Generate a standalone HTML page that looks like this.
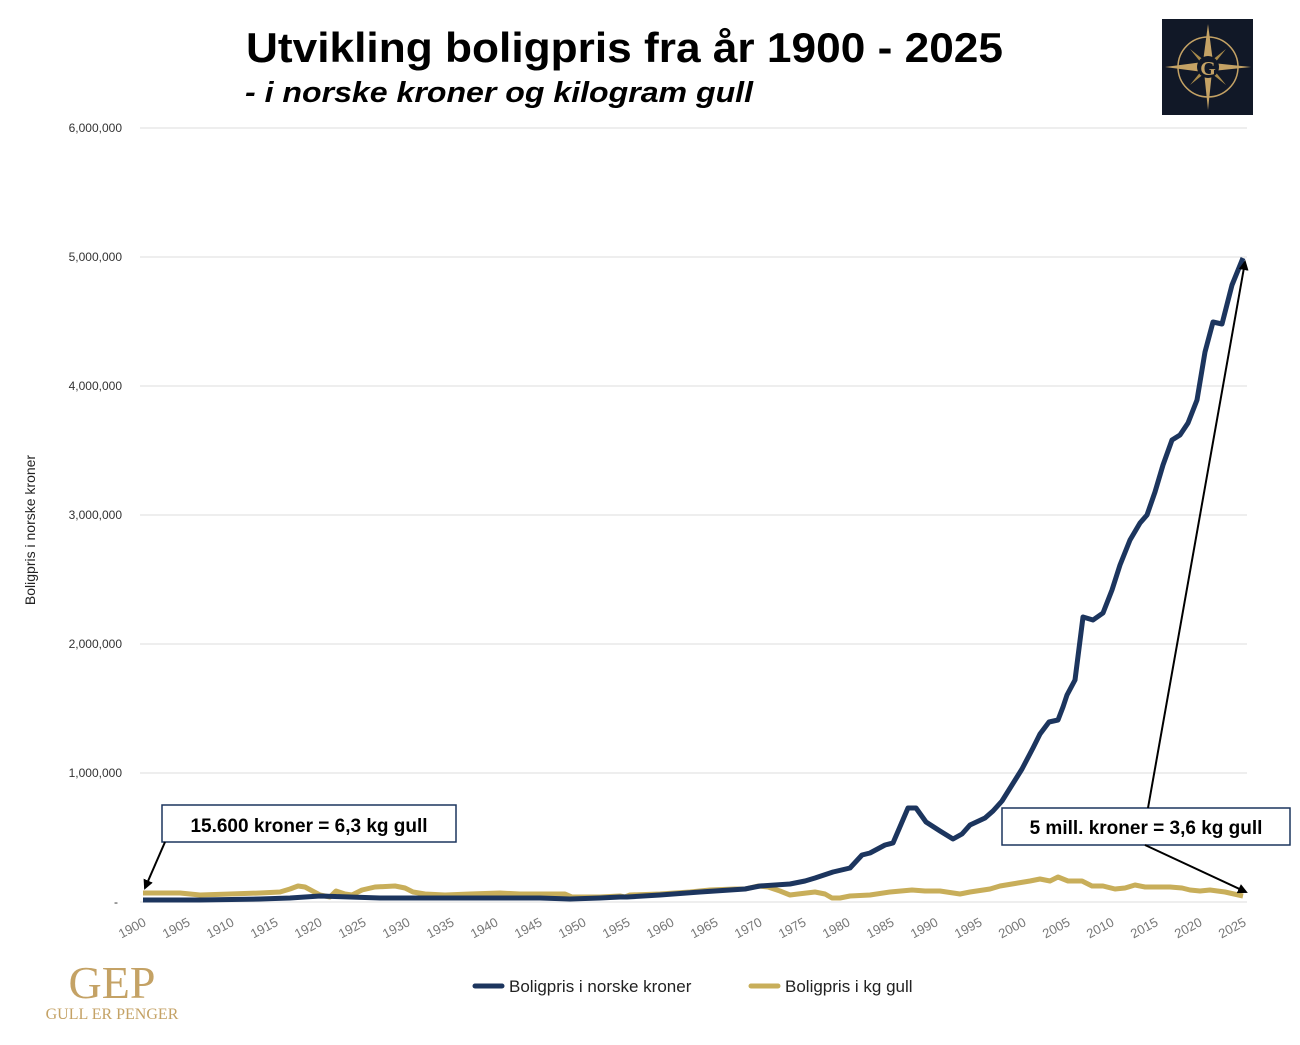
<!DOCTYPE html>
<html><head><meta charset="utf-8"><style>
body{margin:0;background:#fff;width:1300px;height:1040px;overflow:hidden}
svg text{font-family:"Liberation Sans",sans-serif}
</style></head><body>
<svg width="1300" height="1040" viewBox="0 0 1300 1040" xmlns="http://www.w3.org/2000/svg">
<defs><marker id="ah" markerWidth="10" markerHeight="10" refX="8" refY="5" orient="auto" markerUnits="userSpaceOnUse"><path d="M0,0 L10,5 L0,10 z" fill="#000"/></marker></defs>
<text x="246" y="62" font-size="42" font-weight="bold" fill="#000" textLength="757" lengthAdjust="spacingAndGlyphs">Utvikling boligpris fra år 1900 - 2025</text>
<text x="245" y="102" font-size="29" font-weight="bold" font-style="italic" fill="#000" textLength="508" lengthAdjust="spacingAndGlyphs">- i norske kroner og kilogram gull</text>
<g stroke="#dcdcdc" stroke-width="1">
<line x1="140" y1="128" x2="1247" y2="128"/><line x1="140" y1="257" x2="1247" y2="257"/><line x1="140" y1="386" x2="1247" y2="386"/><line x1="140" y1="515" x2="1247" y2="515"/><line x1="140" y1="644" x2="1247" y2="644"/><line x1="140" y1="773" x2="1247" y2="773"/><line x1="140" y1="902" x2="1247" y2="902"/>
</g>
<g font-size="12" fill="#333" text-anchor="end">
<text x="122" y="132">6,000,000</text><text x="122" y="261">5,000,000</text><text x="122" y="390">4,000,000</text><text x="122" y="519">3,000,000</text><text x="122" y="648">2,000,000</text><text x="122" y="777">1,000,000</text><text x="118" y="906">-</text>
</g>
<text transform="translate(35,530) rotate(-90)" text-anchor="middle" font-size="14" fill="#222">Boligpris i norske kroner</text>
<g font-size="13" fill="#777" text-anchor="end">
<text transform="translate(147,925) rotate(-28)">1900</text><text transform="translate(191,925) rotate(-28)">1905</text><text transform="translate(235,925) rotate(-28)">1910</text><text transform="translate(279,925) rotate(-28)">1915</text><text transform="translate(323,925) rotate(-28)">1920</text><text transform="translate(367,925) rotate(-28)">1925</text><text transform="translate(411,925) rotate(-28)">1930</text><text transform="translate(455,925) rotate(-28)">1935</text><text transform="translate(499,925) rotate(-28)">1940</text><text transform="translate(543,925) rotate(-28)">1945</text><text transform="translate(587,925) rotate(-28)">1950</text><text transform="translate(631,925) rotate(-28)">1955</text><text transform="translate(675,925) rotate(-28)">1960</text><text transform="translate(719,925) rotate(-28)">1965</text><text transform="translate(763,925) rotate(-28)">1970</text><text transform="translate(807,925) rotate(-28)">1975</text><text transform="translate(851,925) rotate(-28)">1980</text><text transform="translate(895,925) rotate(-28)">1985</text><text transform="translate(939,925) rotate(-28)">1990</text><text transform="translate(983,925) rotate(-28)">1995</text><text transform="translate(1027,925) rotate(-28)">2000</text><text transform="translate(1071,925) rotate(-28)">2005</text><text transform="translate(1115,925) rotate(-28)">2010</text><text transform="translate(1159,925) rotate(-28)">2015</text><text transform="translate(1203,925) rotate(-28)">2020</text><text transform="translate(1247,925) rotate(-28)">2025</text>
</g>
<polyline fill="none" stroke="#c8ae5a" stroke-width="5" stroke-linejoin="round" points="143,893 180,893 200,895 230,894 260,893 280,892 290,889 298,886 305,887 320,895 330,897 336,891 345,894 352,895 362,890 375,887 395,886 405,888 413,892 425,894 445,895 470,894 500,893 520,894 545,894 565,894 572,897 600,897 620,896 625,897 630,895 660,894 690,892 710,890 735,889 745,889 758,886 768,887 780,891 790,895 798,894 815,892 825,894 832,898 840,898 850,896 870,895 890,892 912,890 925,891 940,891 960,894 970,892 990,889 1000,886 1012,884 1030,881 1040,879 1050,881 1058,877 1068,881 1082,881 1092,886 1103,886 1115,889 1125,888 1135,885 1145,887 1170,887 1182,888 1190,890 1200,891 1210,890 1225,892 1243,896"/>
<polyline fill="none" stroke="#1c355e" stroke-width="5" stroke-linejoin="round" points="143,900 200,900 260,899 290,898 320,896 350,897 380,898 420,898 460,898 500,898 540,898 570,899 600,898 620,897 627,897 660,895 700,892 745,889 760,886 790,884 805,881 815,878 833,872 850,868 862,855 870,853 885,845 893,843 908,808 916,808 926,822 940,831 953,839 962,834 970,825 985,818 993,811 1002,801 1012,785 1022,769 1033,748 1040,734 1049,722 1058,720 1063,707 1067,695 1075,680 1083,617 1093,620 1103,613 1112,590 1120,565 1130,540 1140,523 1147,515 1155,492 1163,465 1172,440 1180,435 1188,423 1197,400 1205,352 1213,322 1222,324 1232,285 1243,258"/>
<rect x="162" y="805" width="294" height="37" fill="#fff" stroke="#1c355e" stroke-width="1.5"/>
<text x="309" y="832" text-anchor="middle" font-size="19" font-weight="bold" fill="#000">15.600 kroner = 6,3 kg gull</text>
<line x1="165" y1="842" x2="145" y2="888" stroke="#000" stroke-width="2" marker-end="url(#ah)"/>
<rect x="1002" y="808" width="288" height="37" fill="#fff" stroke="#1c355e" stroke-width="1.5"/>
<text x="1146" y="834" text-anchor="middle" font-size="19" font-weight="bold" fill="#000">5 mill. kroner = 3,6 kg gull</text>
<line x1="1148" y1="808" x2="1245" y2="262" stroke="#000" stroke-width="2" marker-end="url(#ah)"/>
<line x1="1145" y1="845" x2="1246" y2="892" stroke="#000" stroke-width="2" marker-end="url(#ah)"/>
<line x1="475" y1="986" x2="502" y2="986" stroke="#1c355e" stroke-width="5" stroke-linecap="round"/>
<text x="509" y="992" font-size="17" fill="#222">Boligpris i norske kroner</text>
<line x1="751" y1="986" x2="778" y2="986" stroke="#c8ae5a" stroke-width="5" stroke-linecap="round"/>
<text x="785" y="992" font-size="17" fill="#222">Boligpris i kg gull</text>
<text x="112" y="998" text-anchor="middle" font-size="46" fill="#c4a265" style="font-family:'Liberation Serif',serif">GEP</text>
<text x="112" y="1019" text-anchor="middle" font-size="16" fill="#c4a265" style="font-family:'Liberation Serif',serif">GULL ER PENGER</text>
<rect x="1162" y="19" width="91" height="96" fill="#111827"/>
<circle cx="1208" cy="67" r="30" fill="none" stroke="#c4a265" stroke-width="1.5"/>
<polygon points="1208,24 1213,62 1208,110 1203,62" fill="#c4a265"/>
<polygon points="1165,67 1203,62 1251,67 1203,72" fill="#c4a265"/>
<polygon points="1190,49 1210,65 1226,85 1206,69" fill="#a88a4a"/>
<polygon points="1226,49 1206,65 1190,85 1210,69" fill="#a88a4a"/>
<circle cx="1208" cy="67" r="11" fill="#111827"/>
<text x="1208" y="75" text-anchor="middle" font-size="20" font-weight="bold" fill="#c4a265" style="font-family:'Liberation Serif',serif">G</text>
</svg>
</body></html>
